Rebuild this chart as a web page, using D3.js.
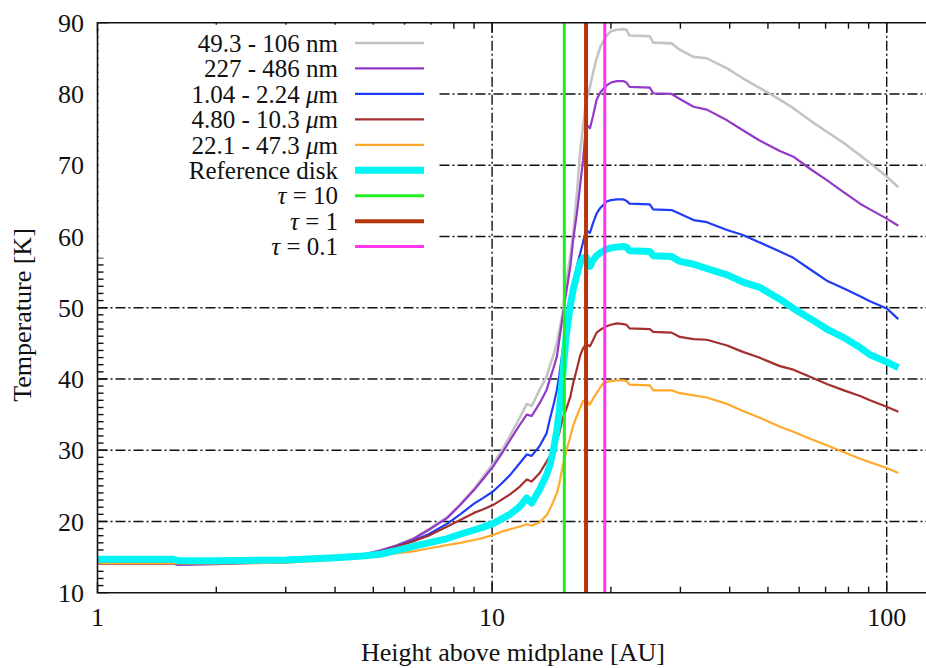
<!DOCTYPE html>
<html><head><meta charset="utf-8">
<script src="https://cdn.jsdelivr.net/npm/d3@7"></script>
<style>body{margin:0;background:#fff}svg{display:block}text{font-family:"Liberation Serif","DejaVu Serif",serif;fill:#111}</style>
</head><body><svg id="c" width="926" height="668"></svg>
<script>
const heights = [1, 1.55, 1.6, 2, 3, 4, 4.6,
  5.2, 5.7, 6.3, 6.9, 7.7, 8.3, 9.0, 9.5,
  10.05, 10.6, 11.1, 11.76, 12.24, 12.6, 13.2, 13.75,
  14.0, 14.3, 14.6, 14.8, 15.1, 15.4, 15.8, 16.06,
  16.4, 16.7, 17.0, 17.3, 17.7, 18.0, 18.4, 18.8,
  19.2, 19.5, 20.0, 20.7, 21.5, 21.9, 22.3,
  25.1, 25.6, 28.5, 29.9, 32.4, 35, 39.4, 43.2,
  47.5, 53.6, 58, 63.9, 70.5, 77.9, 85.6, 90.7, 100, 107];
const tGray = [14.1,14.1,14.0,14.1,14.3,14.8,15.2,
  15.9,16.6,17.6,18.9,20.6,22.4,24.6,26.3,
  28.1,30.0,32.0,34.6,36.5,36.2,38.5,40.4,
  41.8,43.3,45.1,46.8,49.3,53.5,57.5,60.5,
  66.0,71.7,75.5,79.0,81.0,82.8,85.0,86.6,
  87.5,88.2,88.8,89.0,89.1,89.0,88.2,
  88.1,87.2,87.1,86.2,85.2,85.0,83.6,82.2,
  80.9,79.2,78.0,76.3,74.7,73.1,71.4,70.3,68.4,66.9];
const tPurple = [14.1,14.1,13.9,14.0,14.3,14.8,15.2,
  15.9,16.6,17.5,18.8,20.5,22.3,24.4,26.0,
  27.7,29.6,31.4,33.6,35.0,34.8,36.6,38.5,
  39.9,41.5,43.2,45.5,48.8,52.0,56.0,59.7,
  63.2,67.0,70.7,75.8,75.2,76.8,79.2,80.2,
  80.8,81.2,81.6,81.8,81.8,81.6,81.0,
  80.9,80.1,80.0,79.3,78.2,77.8,76.3,74.9,
  73.5,72.0,71.2,69.5,67.9,66.2,64.6,63.8,62.5,61.5];
const tBlue = [14.1,14.1,14.1,14.1,14.3,14.8,15.1,
  15.7,16.4,17.3,18.2,19.7,21.0,22.5,23.3,
  24.2,25.4,26.5,28.2,29.4,29.2,30.6,32.4,
  34.3,36.3,38.5,40.5,44.1,47.5,50.8,53.0,
  55.8,57.5,59.2,60.9,60.5,61.8,63.2,64.0,
  64.5,64.9,65.1,65.2,65.2,65.0,64.6,
  64.5,63.8,63.7,63.2,62.3,62.0,60.9,60.2,
  59.2,57.9,57.0,55.4,53.8,52.7,51.6,50.9,49.9,48.4];
const tBrown = [14.1,14.1,14.1,14.1,14.3,14.8,15.1,
  15.7,16.4,17.2,18.0,19.3,20.2,21.2,21.7,
  22.3,23.1,23.8,24.9,25.9,25.6,26.8,28.4,
  29.2,30.3,31.5,32.4,34.5,35.7,37.6,39.5,
  41.4,43.2,44.3,44.9,44.6,45.4,46.5,46.9,
  47.2,47.4,47.6,47.8,47.7,47.6,47.1,
  47.0,46.6,46.5,45.9,45.6,45.5,44.7,43.8,
  43.0,41.8,41.3,40.3,39.3,38.4,37.6,37.0,36.1,35.4];
const tOrange = [14.1,14.1,14.1,14.1,14.2,14.6,14.9,
  15.2,15.5,15.8,16.2,16.7,17.0,17.4,17.7,
  18.1,18.6,18.9,19.3,19.6,19.4,19.9,20.9,
  21.7,22.8,24.0,25.3,27.8,29.8,32.0,33.5,
  34.8,35.9,36.9,37.0,36.4,37.2,38.0,38.8,
  39.5,39.6,39.7,39.8,39.8,39.7,39.2,
  39.1,38.4,38.4,38.0,37.7,37.4,36.5,35.5,
  34.6,33.3,32.6,31.6,30.7,29.7,28.8,28.3,27.5,26.8];
const tRef = [14.7,14.7,14.5,14.5,14.6,14.9,15.1,
  15.4,15.9,16.5,17.0,17.6,18.2,18.8,19.2,
  19.7,20.4,21.0,22.1,23.3,22.6,24.5,26.6,
  27.8,30.0,32.9,35.5,40.5,46.0,50.5,52.6,
  54.6,56.2,57.0,57.1,55.8,56.6,57.3,57.7,
  58.0,58.2,58.4,58.5,58.6,58.5,58.0,
  57.9,57.3,57.2,56.5,56.1,55.5,54.6,53.6,
  52.9,51.2,49.9,48.5,47.0,45.8,44.4,43.4,42.4,41.6];
const tauNames = ["τ = 10", "τ = 1", "τ = 0.1"];
const tauHeights = [15.24, 17.3, 19.3];
const seriesNames = ["49.3 - 106 nm", "227 - 486 nm", "1.04 - 2.24 μm", "4.80 - 10.3 μm", "22.1 - 47.3 μm", "Reference disk"];
const yTicks = [10, 20, 30, 40, 50, 60, 70, 80, 90];
const xTicks = [1, 10, 100];
const xLabel = "Height above midplane [AU]";
const yLabel = "Temperature [K]";

const series = [
  {name: seriesNames[0], vals: tGray,   color: "#c4c4c4", w: 2.6},
  {name: seriesNames[1], vals: tPurple, color: "#9438c8", w: 2.2},
  {name: seriesNames[2], vals: tBlue,   color: "#1f3cf5", w: 2.2},
  {name: seriesNames[3], vals: tBrown,  color: "#a3302e", w: 2.2},
  {name: seriesNames[4], vals: tOrange, color: "#ffaa2a", w: 2.2},
  {name: seriesNames[5], vals: tRef,    color: "#00f4f4", w: 7}
];
const taus = [
  {name: tauNames[0], h: tauHeights[0], color: "#1ef01e", w: 3},
  {name: tauNames[1], h: tauHeights[1], color: "#b8360e", w: 4},
  {name: tauNames[2], h: tauHeights[2], color: "#ff35f0", w: 3}
];

const L = 97.5, R = 927, T = 22.7, B = 592.7;
const x = d3.scaleLog().domain([1, 126.5]).range([L, R]);
const y = d3.scaleLinear().domain([10, 90]).range([B, T]);
const svg = d3.select("#c");
const FS = 26, FSL = 25;

// grid
const grid = svg.append("g").attr("stroke", "#111").attr("stroke-width", 1.4).attr("stroke-dasharray", "10,3,2,3");
yTicks.filter(v => v > 10 && v < 90).forEach(v => grid.append("line").attr("x1", L).attr("x2", R).attr("y1", y(v)).attr("y2", y(v)));
[10, 100].forEach(v => grid.append("line").attr("x1", x(v)).attr("x2", x(v)).attr("y1", T).attr("y2", B));

// ticks
const tk = svg.append("g").attr("stroke", "#111").attr("stroke-width", 1.4);
for (let v = 10; v <= 90; v++) {
  const len = v % 10 === 0 ? 10 : 6;
  tk.append("line").attr("x1", L).attr("x2", L + len).attr("y1", y(v)).attr("y2", y(v));
}
for (let d = 1; d <= 100; d *= 10) {
  for (let m = 1; m <= 9; m++) {
    const v = d * m;
    if (v > 126.5) break;
    const len = m === 1 ? 10 : 6;
    tk.append("line").attr("x1", x(v)).attr("x2", x(v)).attr("y1", B).attr("y2", B - len);
    tk.append("line").attr("x1", x(v)).attr("x2", x(v)).attr("y1", T).attr("y2", T + len);
  }
}

// opaque key background
svg.append("rect").attr("x", L + 1).attr("y", T + 2).attr("width", 438 - L - 1).attr("height", 233).attr("fill", "#fff");

// curves
const line = d3.line().x(d => x(d[0])).y(d => y(d[1]));
series.forEach(s => {
  svg.append("path").datum(heights.map((h, i) => [h, s.vals[i]]))
    .attr("d", line).attr("fill", "none").attr("stroke", s.color)
    .attr("stroke-width", s.w).attr("stroke-linejoin", "round");
});
taus.forEach(t => {
  svg.append("line").attr("x1", x(t.h)).attr("x2", x(t.h)).attr("y1", T).attr("y2", B)
    .attr("stroke", t.color).attr("stroke-width", t.w);
});

// frame
svg.append("path").attr("d", `M${R},${T}H${L}V${B}H${R}`).attr("fill", "none").attr("stroke", "#111").attr("stroke-width", 1.6);

// tick labels
yTicks.forEach(v => svg.append("text").attr("x", 84).attr("y", y(v)).attr("dy", "0.35em")
  .attr("text-anchor", "end").attr("font-size", FS).text(v));
xTicks.forEach(v => svg.append("text").attr("x", x(v)).attr("y", 626)
  .attr("text-anchor", "middle").attr("font-size", FS).text(v));

// axis labels
svg.append("text").attr("x", 513).attr("y", 661).attr("text-anchor", "middle").attr("font-size", FS).text(xLabel);
svg.append("text").attr("transform", "translate(31,315) rotate(-90)").attr("text-anchor", "middle").attr("font-size", FS).text(yLabel);

// legend
const items = series.concat(taus);
const rowY0 = 43, rowDy = 25.45;
items.forEach((it, i) => {
  const yy = rowY0 + i * rowDy;
  const t = svg.append("text").attr("x", 338).attr("y", yy).attr("dy", "0.35em")
    .attr("text-anchor", "end").attr("font-size", FSL);
  it.name.split(/([τμ])/).forEach(p => {
    if (!p) return;
    const sp = t.append("tspan").text(p);
    if (p === "τ" || p === "μ") sp.attr("font-style", "italic");
  });
  svg.append("line").attr("x1", 355).attr("x2", 424).attr("y1", yy).attr("y2", yy)
    .attr("stroke", it.color).attr("stroke-width", it.w);
});
</script></body></html>
